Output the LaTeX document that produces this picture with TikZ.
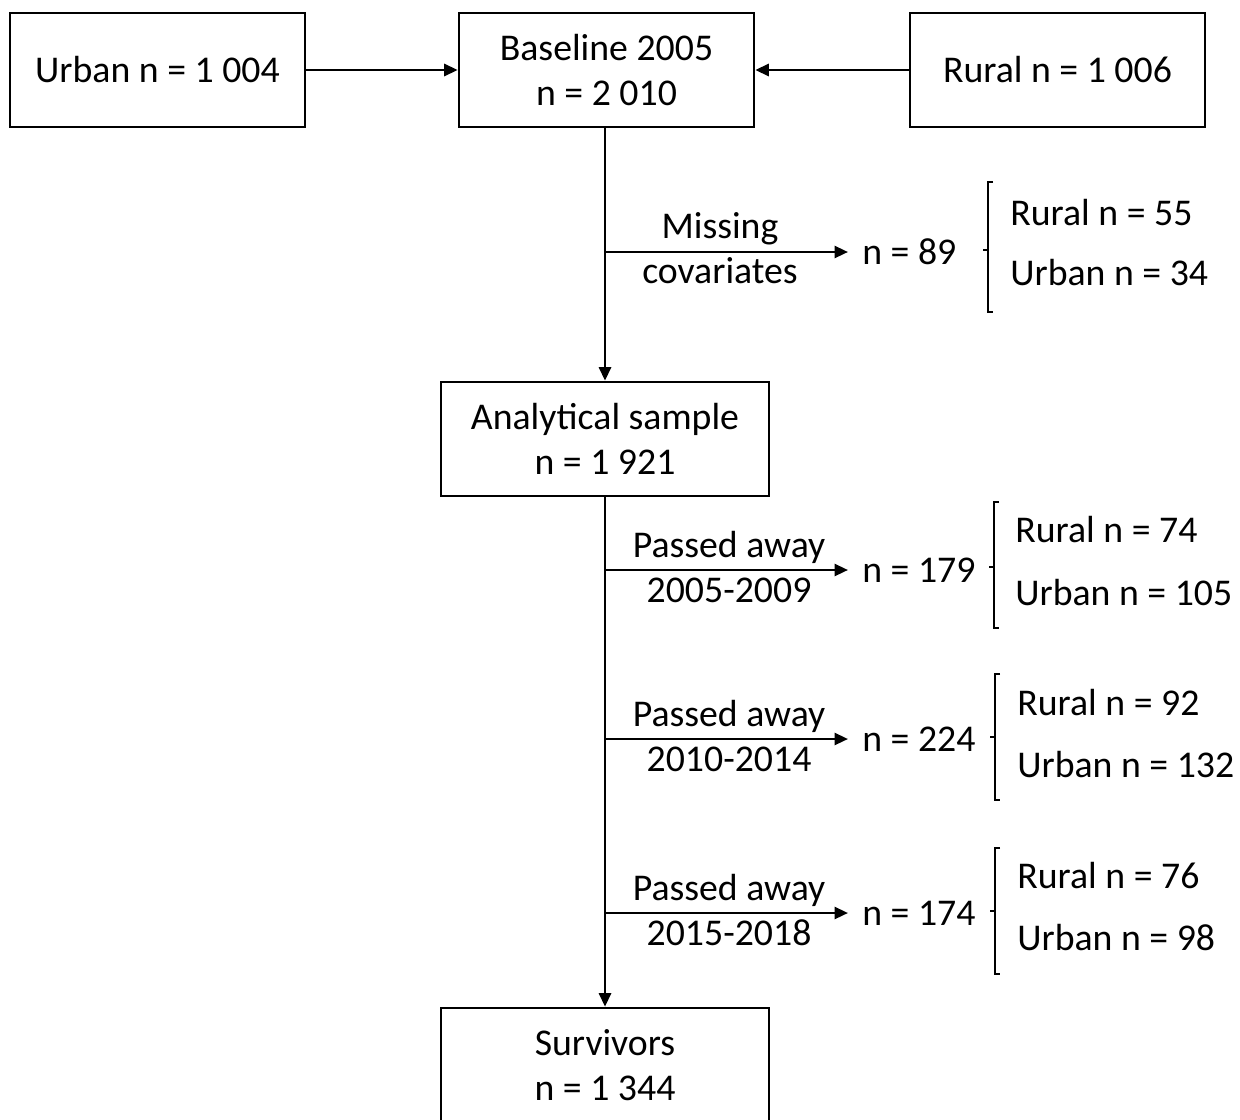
\documentclass[tikz,border=0pt]{standalone}
\usepackage{fontspec}
\setmainfont{Carlito}
\usetikzlibrary{arrows.meta}
\begin{document}
\begin{tikzpicture}[x=0.02cm,y=-0.02cm,
  every node/.style={font=\fontsize{21.5}{25.6}\selectfont, text=black},
  box/.style={draw, line width=1.5pt, minimum height=2.28cm, align=center, inner sep=0pt},
  sbox/.style={box, minimum width=5.9cm},
  wbox/.style={box, minimum width=6.56cm},
  arr/.style={line width=1.5pt, -{Triangle[length=0.27cm,width=0.24cm]}},
  cnt/.style={anchor=west, inner xsep=0.28cm, inner ysep=0pt},
  lbl/.style={anchor=base, inner sep=0pt},
  sub/.style={anchor=base west, inner sep=0pt},
  brk/.style={line width=1.1pt}]
\useasboundingbox (0,0) rectangle (1240,1119);
\clip (0,0) rectangle (1240,1119);

\node[sbox] (urban) at (157.5,70) {Urban n = 1 004};
\node[sbox] (base) at (606.5,70) {Baseline 2005\\n = 2 010};
\node[sbox] (rural) at (1057.5,70) {Rural n = 1 006};
\node[wbox] (anal) at (605,439) {Analytical sample\\n = 1 921};
\node[wbox] (surv) at (605,1065) {Survivors\\n = 1 344};

\draw[arr] (urban.east) -- (base.west);
\draw[arr] (rural.west) -- (base.east);
\draw[arr] (base.south -| anal.north) -- (anal.north);
\draw[arr] (anal.south) -- (surv.north);

% branch 1
\coordinate (b1) at (605,252);
\node[cnt] (n89) at (848,252) {n = 89};
\draw[arr] (b1) -- (n89.west);
\node[lbl] (m1) at (720,238) {Missing};
\node[lbl] (m2) at (720,283) {covariates};
\draw[brk] (993,182) -- (988,182) -- (988,312) -- (993,312);
\draw[brk] (983,250) -- (988,250);
\node[sub] (r55) at (1010,225) {Rural n = 55};
\node[sub] (u34) at (1010,285) {Urban n = 34};

% branch 2
\coordinate (b2) at (605,570);
\node[cnt] (n179) at (848,570) {n = 179};
\draw[arr] (b2) -- (n179.west);
\node[lbl] (p2a) at (729,557) {Passed away};
\node[lbl] (p2b) at (729,602) {2005-2009};
\draw[brk] (999,502) -- (994,502) -- (994,628) -- (999,628);
\draw[brk] (989,567) -- (994,567);
\node[sub] (r74) at (1015,542) {Rural n = 74};
\node[sub] (u105) at (1015,605) {Urban n = 105};

% branch 3
\coordinate (b3) at (605,739);
\node[cnt] (n224) at (848,739) {n = 224};
\draw[arr] (b3) -- (n224.west);
\node[lbl] (p3a) at (729,726) {Passed away};
\node[lbl] (p3b) at (729,771) {2010-2014};
\draw[brk] (1000,674) -- (995,674) -- (995,800) -- (1000,800);
\draw[brk] (990,737) -- (995,737);
\node[sub] (r92) at (1017,715) {Rural n = 92};
\node[sub] (u132) at (1017,777) {Urban n = 132};

% branch 4
\coordinate (b4) at (605,913);
\node[cnt] (n174) at (848,913) {n = 174};
\draw[arr] (b4) -- (n174.west);
\node[lbl] (p4a) at (729,900) {Passed away};
\node[lbl] (p4b) at (729,945) {2015-2018};
\draw[brk] (1000,848) -- (995,848) -- (995,974) -- (1000,974);
\draw[brk] (990,911) -- (995,911);
\node[sub] (r76) at (1017,888) {Rural n = 76};
\node[sub] (u98) at (1017,950) {Urban n = 98};
\end{tikzpicture}
\end{document}
